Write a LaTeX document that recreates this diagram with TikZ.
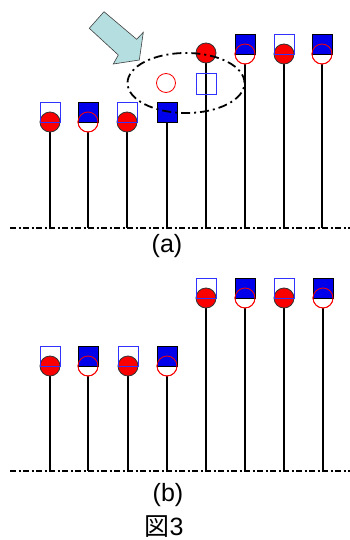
\documentclass[tikz,border=0pt]{standalone}
\usepackage{fontspec}
\setmainfont{Liberation Sans}
\newfontfamily\cjkfont{Noto Sans CJK JP}
\definecolor{pinred}{RGB}{250,0,0}
\definecolor{pinblue}{RGB}{0,0,235}
\definecolor{sqline}{RGB}{50,50,255}
\definecolor{arrowfill}{RGB}{180,222,224}
\tikzset{
  stem/.style={line width=1.8pt, black},
  redball/.style={fill=pinred, draw=black!80, line width=0.8pt},
  redring/.style={fill=white, draw=pinred, line width=0.8pt},
  redringtop/.style={draw=pinred, line width=0.8pt},
  opensq/.style={draw=sqline, line width=0.9pt},
  fullsq/.style={fill=pinblue, draw=black, line width=0.8pt},
  baseln/.style={line width=1.8pt, dash pattern=on 6pt off 2.5pt on 2pt off 2.5pt},
  ellln/.style={line width=1.8pt, dash pattern=on 9pt off 4pt on 2pt off 4pt},
  lbl/.style={font=\fontsize{25}{28}\selectfont, inner sep=0pt},
}
% pin with open square and filled red ball: x, circle centre y, baseline y
\newcommand\pinOpenSq[3]{%
  \draw[stem] (#1,#2+10) -- (#1,#3);
  \draw[redball] (#1,#2) circle (10pt);
  \draw[opensq] (#1-10,#2-20) rectangle (#1+10,#2);
}
% pin with filled blue square and red ring
\newcommand\pinFullSq[3]{%
  \draw[stem] (#1,#2+10) -- (#1,#3);
  \draw[redring] (#1,#2) circle (10pt);
  \draw[fullsq] (#1-10,#2-20) rectangle (#1+10,#2);
  \draw[redringtop] (#1,#2) circle (10pt);
}
\begin{document}
\begin{tikzpicture}[x=1pt, y=-1pt]
\useasboundingbox (0,0) rectangle (350,540);
\fill[white] (0,0) rectangle (350,540);

% ---------- panel (a) ----------
\coordinate (aL) at (10,228);
\coordinate (aR) at (350,228);
\draw[baseln] (aL) -- (aR);

\pinOpenSq{50}{122}{228}
\pinFullSq{88}{122}{228}
\pinOpenSq{127}{122}{228}
% pin 4: filled square only
\draw[stem] (167,122) -- (167,228);
\draw[fullsq] (157,102) rectangle (177,122);
% pin 5: ball lifted, empty square left behind
\draw[stem] (206,63) -- (206,228);
\draw[opensq] (196,73) rectangle (216,94);
\draw[redball] (206,53) circle (10pt);
% right pins
\pinFullSq{245}{54}{228}
\pinOpenSq{284}{54}{228}
\pinFullSq{322}{54}{228}

% empty red circle
\draw[redringtop] (166,83) circle (9.5pt);
% dash-dot ellipse
\draw[ellln] (186,83) ellipse (58.5pt and 30pt);

% block arrow
\draw[fill=arrowfill, draw=black!75, line width=0.6pt]
  (104,11.7) -- (89.3,28.3) -- (118.3,55) -- (113.3,64) -- (139.3,60)
  -- (143.3,32.3) -- (136.7,39.3) -- cycle;

\node[lbl] (la) at (167,246.5) {(a)};

% ---------- panel (b) ----------
\coordinate (bL) at (10,471);
\coordinate (bR) at (350,471);
\draw[baseln] (bL) -- (bR);

\pinOpenSq{50}{366}{471}
\pinFullSq{88}{366}{471}
\pinOpenSq{128}{366}{471}
\pinFullSq{167}{366}{471}
\pinOpenSq{206}{298}{471}
\pinFullSq{245}{298}{471}
\pinOpenSq{284}{298}{471}
\pinFullSq{323}{298}{471}

\node[lbl] (lb) at (168,495.5) {(b)};
\node[lbl, anchor=base] (fig) at (164,535) {{\cjkfont 図}3};
\end{tikzpicture}
\end{document}
